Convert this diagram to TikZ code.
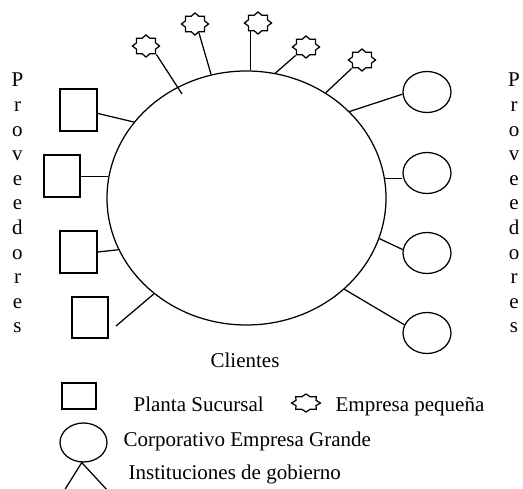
\documentclass[tikz,border=0pt]{standalone}
\usepackage{fontspec}
\setmainfont{Liberation Serif}
\usetikzlibrary{shapes.geometric}
\begin{document}
\begin{tikzpicture}[x=1pt,y=-1pt,line width=1.25pt,
  txt/.style={font=\fontsize{21}{25}\selectfont, inner sep=0pt},
  sqbox/.style={draw, rectangle, inner sep=0pt},
  oval/.style={draw, ellipse, inner sep=0pt},
  seal/.style={draw, star, star points=8, star point ratio=1.32, inner sep=0pt,
    minimum size=22pt, xscale=1.23, transform shape}]
\useasboundingbox (0,0) rectangle (523,489);
\clip (0,0) rectangle (523,489);
% main ellipse
\node[oval, minimum width=279pt, minimum height=254pt] (main) at (246.5,198) {};
% left squares
\node[sqbox, minimum width=37pt, minimum height=42pt] (sq1) at (78.5,110) {};
\node[sqbox, minimum width=36pt, minimum height=42pt] (sq2) at (62,176) {};
\node[sqbox, minimum width=37pt, minimum height=42pt] (sq3) at (78.5,252) {};
\node[sqbox, minimum width=36pt, minimum height=41pt] (sq4) at (90,317.5) {};
% right circles
\node[oval, minimum width=48pt, minimum height=41pt] (c1) at (427,92) {};
\node[oval, minimum width=48pt, minimum height=41pt] (c2) at (427,173) {};
\node[oval, minimum width=48pt, minimum height=41pt] (c3) at (427,253) {};
\node[oval, minimum width=48pt, minimum height=41pt] (c4) at (427,333) {};
% stars
\node[seal] (s1) at (146,46) {};
\node[seal] (s2) at (195,24) {};
\node[seal] (s3) at (258,23) {};
\node[seal] (s4) at (306,47) {};
\node[seal] (s5) at (362,60) {};
\coordinate (s1end) at (182,94);
\coordinate (q4start) at (116,326);
% connectors
\draw (s1.-45) -- (s1end);
\draw (s2.-70) -- (main.106.4);
\draw (s3.-125) -- (s3.-125 |- main.north);
\draw (s4.-135) -- (main.77.2);
\draw (s5.-135) -- (main.53.2);
\draw (c1.185) -- (main.40.6);
\draw (c2.west |- main.8.2) -- (main.8.2);
\draw (c3.172) -- (main.-17.7);
\draw (c4.160) -- (main.-43);
\draw (sq1.-10) -- (main.146.3);
\draw (sq2.east |- main.171.7) -- (main.171.7);
\draw (sq3.east) -- (main.202.3);
\draw (q4start) -- (main.226.7);
% vertical labels
\foreach \l [count=\i] in {P,r,o,v,e,e,d,o,r,e,s} {
  \node[txt, anchor=base] (pl\i) at (17.5,{87+(\i-1)*24.6}) {\l};
  \node[txt, anchor=base] (pr\i) at (514,{87+(\i-1)*24.6}) {\l};
}
\node[txt, anchor=base] (clientes) at (245,368) {Clientes};
% legend
\node[sqbox, minimum width=34pt, minimum height=26pt] (lsq) at (79,396) {};
\node[txt, anchor=base west] (lplanta) at (133,412) {Planta Sucursal};
\node[draw, star, star points=8, star point ratio=1.32, inner sep=0pt,
    minimum size=18pt, xscale=1.6, transform shape] (lstar) at (306,403) {};
\node[txt, anchor=base west] (lpeq) at (335,412) {Empresa pequeña};
\node[oval, minimum width=47pt, minimum height=39pt] (lc) at (83.5,442.5) {};
\node[txt, anchor=base west] (lcorp) at (123,447) {Corporativo Empresa Grande};
\coordinate (legl) at (64,491);
\coordinate (legr) at (108,491);
\draw (legl) -- (lc.-95) -- (legr);
\node[txt, anchor=base west] (linst) at (128,480) {Instituciones de gobierno};
\end{tikzpicture}
\end{document}
